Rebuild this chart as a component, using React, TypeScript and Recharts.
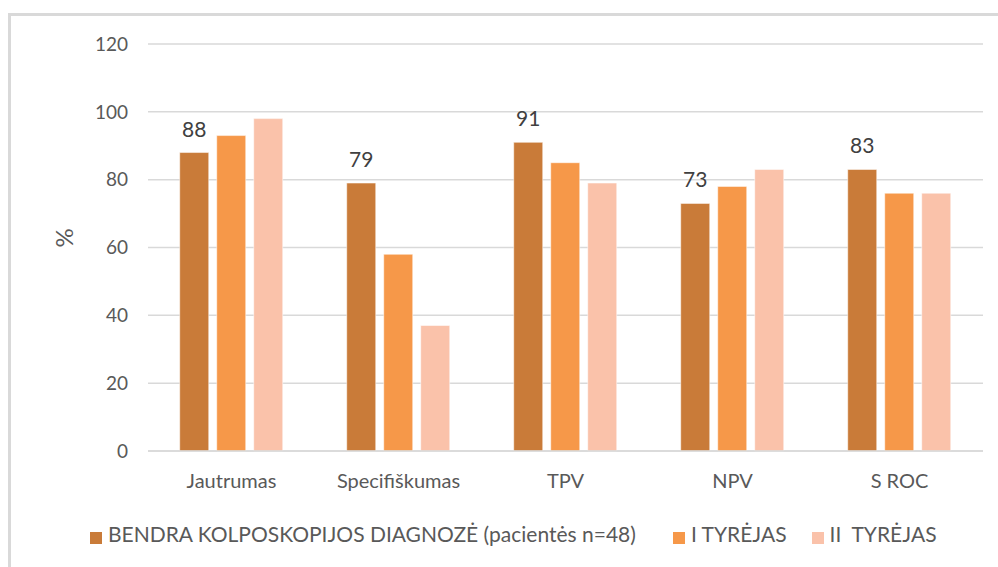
import { BarChart, Bar, XAxis, YAxis, CartesianGrid, Legend, LabelList } from "recharts"

const categories = ["Jautrumas", "Specifiškumas", "TPV", "NPV", "S ROC"]
const bendra = [88, 79, 91, 73, 83]
const tyrejas1 = [93, 58, 85, 78, 76]
const tyrejas2 = [98, 37, 79, 83, 76]
const yTicks = [0, 20, 40, 60, 80, 100, 120]

const seriesNames = ["BENDRA KOLPOSKOPIJOS DIAGNOZĖ (pacientės n=48)", "I TYRĖJAS", "II  TYRĖJAS"]

const data = categories.map((name, i) => ({
  name,
  bendra: bendra[i],
  t1: tyrejas1[i],
  t2: tyrejas2[i],
}))

const textColor = "#595959"
const font = "Lato, 'Open Sans', sans-serif"

export default function App() {
  return (
    <div style={{ position: "absolute", left: 0, top: 0, width: 998, height: 567, background: "#fff", fontFamily: font, overflow: "hidden" }}>
      <div
        style={{
          position: "absolute",
          left: 8,
          top: 13,
          width: 1100,
          height: 700,
          borderLeft: "3px solid #d9d9d9",
          borderTop: "3px solid #d9d9d9",
        }}
      />
      <BarChart
        width={998}
        height={567}
        data={data}
        margin={{ top: 44, right: 15, left: 58, bottom: 21 }}
        barCategoryGap="19%"
        barGap={8}
        style={{ position: "absolute", left: 0, top: 0 }}
      >
        <CartesianGrid vertical={false} stroke="#d9d9d9" strokeWidth={1.5} />
        <XAxis
          dataKey="name"
          height={70}
          tickLine={false}
          tickSize={0}
          tickMargin={23}
          axisLine={{ stroke: "#d9d9d9", strokeWidth: 1.5 }}
          tick={{ fill: textColor, fontSize: 20, fontFamily: font }}
        />
        <YAxis
          width={90}
          domain={[0, 120]}
          ticks={yTicks}
          tickLine={false}
          axisLine={false}
          tickSize={0}
          tickMargin={20}
          tick={{ fill: textColor, fontSize: 19, fontFamily: font }}
          label={{ value: "%", angle: -90, position: "insideLeft", offset: 6, fill: textColor, fontSize: 24, fontFamily: font }}
        />
        <Legend
          verticalAlign="bottom"
          align="left"
          iconType="square"
          iconSize={12}
          wrapperStyle={{ left: 90, fontFamily: font }}
          formatter={(value, _entry, index) => (
            <span style={{ color: textColor, fontSize: 21, marginLeft: 2, marginRight: index === 0 ? 27 : 15, whiteSpace: "pre" }}>
              {value}
            </span>
          )}
        />
        <Bar dataKey="bendra" name={seriesNames[0]} fill="#c97b39" stroke="#ffffff" strokeOpacity={0.5} isAnimationActive={false}>
          <LabelList dataKey="bendra" position="top" offset={16} fill="#404040" fontSize={21} fontFamily={font} />
        </Bar>
        <Bar dataKey="t1" name={seriesNames[1]} fill="#f69849" stroke="#ffffff" strokeOpacity={0.5} isAnimationActive={false} />
        <Bar dataKey="t2" name={seriesNames[2]} fill="#fac2aa" stroke="#ffffff" strokeOpacity={0.5} isAnimationActive={false} />
      </BarChart>
    </div>
  )
}
